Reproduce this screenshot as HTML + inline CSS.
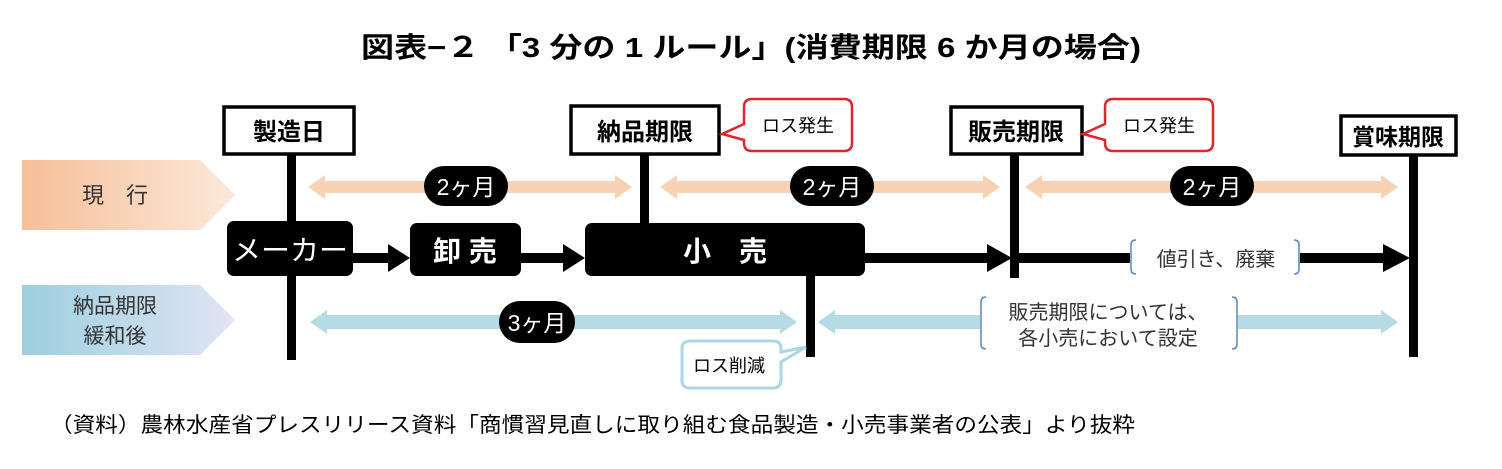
<!DOCTYPE html>
<html><head><meta charset="utf-8"><style>
html,body{margin:0;padding:0;background:#fff;}
svg{display:block;}
text{font-family:"Liberation Sans","Noto Sans CJK JP",sans-serif;}
</style></head><body>
<svg width="1502" height="469" viewBox="0 0 1502 469" xmlns="http://www.w3.org/2000/svg">
<defs>
<linearGradient id="gp" x1="0" x2="1"><stop offset="0" stop-color="#f6bf98"/><stop offset="1" stop-color="#fce8da"/></linearGradient>
<linearGradient id="gb" x1="0" x2="1"><stop offset="0" stop-color="#9ccfdf"/><stop offset="1" stop-color="#e2e4f4"/></linearGradient>
</defs>
<text x="751" y="57" font-size="28" font-weight="bold" text-anchor="middle" textLength="780" lengthAdjust="spacingAndGlyphs">図表−２ 「3 分の 1 ルール」(消費期限 6 か月の場合)</text>

<polygon points="22,160 200,160 235,195 200,230 22,230" fill="url(#gp)"/>
<text x="115" y="203" font-size="22" text-anchor="middle" fill="#333">現　行</text>
<polygon points="22,285 200,285 235,320 200,355 22,355" fill="url(#gb)"/>
<text x="115" y="313" font-size="21" text-anchor="middle" fill="#333">納品期限</text>
<text x="115" y="343" font-size="21" text-anchor="middle" fill="#333">緩和後</text>

<g fill="#f9d2b4">
<polygon points="308,187 325,175 325,181 615,181 615,175 632,187 615,199 615,193 325,193 325,199"/>
<polygon points="660,187 677,175 677,181 983,181 983,175 1000,187 983,199 983,193 677,193 677,199"/>
<polygon points="1025,187 1042,175 1042,181 1381,181 1381,175 1398,187 1381,199 1381,193 1042,193 1042,199"/>
</g>
<g fill="#b5dbe6">
<polygon points="310,322 327,310 327,315 780,315 780,310 797,322 780,334 780,329 327,329 327,334"/>
<polygon points="818,322 835,310 835,315 1381,315 1381,310 1398,322 1381,334 1381,329 835,329 835,334"/>
</g>

<g fill="#000">
<rect x="424" y="166" width="84" height="40" rx="20"/>
<rect x="790" y="166" width="84" height="40" rx="20"/>
<rect x="1170" y="166" width="84" height="40" rx="20"/>
<rect x="499" y="301" width="76" height="42" rx="21"/>
</g>
<g fill="#fff" font-size="23" text-anchor="middle">
<text x="466" y="195">2ヶ月</text>
<text x="832" y="195">2ヶ月</text>
<text x="1212" y="195">2ヶ月</text>
<text x="537" y="331">3ヶ月</text>
</g>

<g fill="#000">
<rect x="287" y="150" width="9" height="210"/>
<rect x="640" y="150" width="9" height="80"/>
<rect x="1010" y="150" width="9" height="128"/>
<rect x="1409" y="150" width="9" height="207"/>
<rect x="806" y="270" width="9" height="87"/>
</g>

<g fill="#000">
<rect x="350" y="253" width="40" height="10"/>
<polygon points="388,244 410,258 388,272"/>
<rect x="518" y="253" width="48" height="10"/>
<polygon points="563,244 585,258 563,272"/>
<rect x="862" y="253" width="128" height="10"/>
<polygon points="987,244 1012,258 987,272"/>
<rect x="1015" y="253" width="115" height="10"/>
<rect x="1300" y="253" width="85" height="10"/>
<polygon points="1383,244 1410,258 1383,272"/>
</g>

<g fill="#000">
<rect x="227" y="221" width="126" height="55" rx="7"/>
<rect x="410" y="223" width="111" height="53" rx="7"/>
<rect x="585" y="223" width="280" height="53" rx="7"/>
</g>
<g fill="#fff" font-size="28" text-anchor="middle">
<text x="290" y="260" textLength="116" lengthAdjust="spacingAndGlyphs">メーカー</text>
<text x="465" y="261" font-weight="bold">卸 売</text>
<text x="725" y="261" font-weight="bold">小　売</text>
</g>

<g fill="#fff" stroke="#000" stroke-width="3.5">
<rect x="224" y="107" width="130" height="47"/>
<rect x="571" y="106" width="148" height="48"/>
<rect x="951" y="107" width="131" height="47"/>
<rect x="1341" y="116" width="115" height="39"/>
</g>
<g font-size="24" font-weight="bold" text-anchor="middle">
<text x="289" y="140">製造日</text>
<text x="645" y="140">納品期限</text>
<text x="1016" y="140">販売期限</text>
<text x="1398" y="145" font-size="23">賞味期限</text>
</g>

<g fill="#fff" stroke="#e0262b" stroke-width="2.5">
<path d="M752,99 H844 Q852,99 852,107 V143 Q852,151 844,151 H752 Q744,151 744,143 V140 L722,134 L744,124 V107 Q744,99 752,99 Z"/>
<path d="M1113,99 H1205 Q1213,99 1213,107 V143 Q1213,151 1205,151 H1113 Q1105,151 1105,143 V140 L1083,134 L1105,124 V107 Q1105,99 1113,99 Z"/>
</g>
<g font-size="18" text-anchor="middle">
<text x="798" y="132">ロス発生</text>
<text x="1159" y="132">ロス発生</text>
</g>
<path d="M690,341 H773 Q781,341 781,349 V352 L806,347 L781,362 V380 Q781,388 773,388 H690 Q682,388 682,380 V349 Q682,341 690,341 Z" fill="#fff" stroke="#a9d7e3" stroke-width="3"/>
<text x="729" y="372" font-size="18" text-anchor="middle">ロス削減</text>

<g fill="#fff" stroke="none">
<rect x="1130" y="238" width="170" height="38"/>
<rect x="980" y="295" width="258" height="56"/>
</g>
<g fill="none" stroke="#5b86b8" stroke-width="1.5">
<path d="M1136,240 Q1131,240 1131,245 V269 Q1131,274 1136,274"/>
<path d="M1294,240 Q1299,240 1299,245 V269 Q1299,274 1294,274"/>
<path d="M986,297 Q981,297 981,302 V344 Q981,349 986,349"/>
<path d="M1232,297 Q1237,297 1237,302 V344 Q1237,349 1232,349"/>
</g>
<g font-size="20" text-anchor="middle" fill="#333">
<text x="1216" y="266">値引き、廃棄</text>
<text x="1108" y="319">販売期限については、</text>
<text x="1108" y="345">各小売において設定</text>
</g>

<text x="50" y="432" font-size="21" textLength="1085" lengthAdjust="spacingAndGlyphs">（資料）農林水産省プレスリリース資料「商慣習見直しに取り組む食品製造・小売事業者の公表」より抜粋</text>
</svg>
</body></html>
